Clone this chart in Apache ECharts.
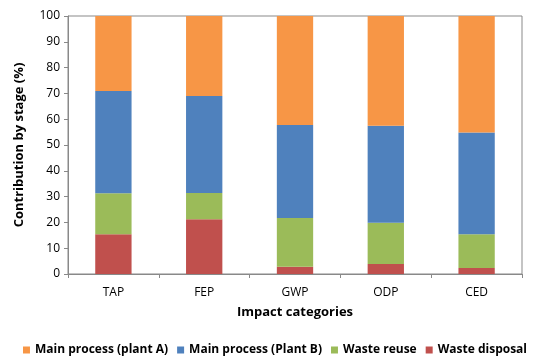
<!DOCTYPE html>
<html><head><meta charset="utf-8">
<script src="https://cdn.jsdelivr.net/npm/echarts@6/dist/echarts.min.js"></script>
<style>html,body{margin:0;padding:0;background:#fff}#c{width:550px;height:362px}</style>
</head><body><div id="c"></div>
<script>
var categories = ['TAP', 'FEP', 'GWP', 'ODP', 'CED'];
var wasteDisposal = [15.4, 21.2, 2.8, 3.9, 2.3];
var wasteReuse = [15.9, 10.2, 18.9, 16.0, 13.1];
var plantB = [39.6, 37.6, 36.1, 37.6, 39.4];
var plantA = [29.1, 31.0, 42.2, 42.5, 45.2];
var yTicks = [0, 10, 20, 30, 40, 50, 60, 70, 80, 90, 100];

var font = '"Open Sans", sans-serif';
var chart = echarts.init(document.getElementById('c'));
function s(name, data, color) {
  return { name: name, type: 'bar', stack: 'total', data: data, barWidth: '40%',
    itemStyle: { color: color }, animation: false };
}
chart.setOption({
  animation: false,
  textStyle: { fontFamily: font },
  grid: { left: 68, right: 28, top: 16, bottom: 88, show: true, borderColor: '#898989', borderWidth: 1 },
  legend: {
    data: ['Main process (plant A)', 'Main process (Plant B)', 'Waste reuse', 'Waste disposal'],
    top: 339, left: 'center', itemWidth: 7, itemHeight: 7, itemGap: 9, icon: 'rect',
    textStyle: { fontSize: 12, fontWeight: 'bold', color: '#000', fontFamily: font }
  },
  xAxis: {
    type: 'category', data: categories,
    name: 'Impact categories', nameLocation: 'middle', nameGap: 32,
    nameTextStyle: { fontSize: 13, fontWeight: 'bold', color: '#000', fontFamily: font },
    axisLine: { lineStyle: { color: '#898989' } },
    axisTick: { show: true, alignWithLabel: false, length: 4, lineStyle: { color: '#898989' } },
    axisLabel: { fontSize: 12, color: '#000', margin: 13 }
  },
  yAxis: {
    type: 'value', min: 0, max: 100, interval: 10,
    name: 'Contribution by stage (%)', nameLocation: 'middle', nameGap: 42,
    nameTextStyle: { fontSize: 13, fontWeight: 'bold', color: '#000', fontFamily: font },
    axisLine: { show: true, lineStyle: { color: '#898989' } },
    axisTick: { show: true, length: 4, lineStyle: { color: '#898989' } },
    splitLine: { show: false },
    axisLabel: { fontSize: 12, color: '#000', margin: 8,
      formatter: function (v) { return yTicks.indexOf(v) >= 0 ? String(v) : ''; } }
  },
  series: [
    s('Waste disposal', wasteDisposal, '#C0504D'),
    s('Waste reuse', wasteReuse, '#9BBB59'),
    s('Main process (Plant B)', plantB, '#4F81BD'),
    s('Main process (plant A)', plantA, '#F79646')
  ]
});
</script></body></html>
